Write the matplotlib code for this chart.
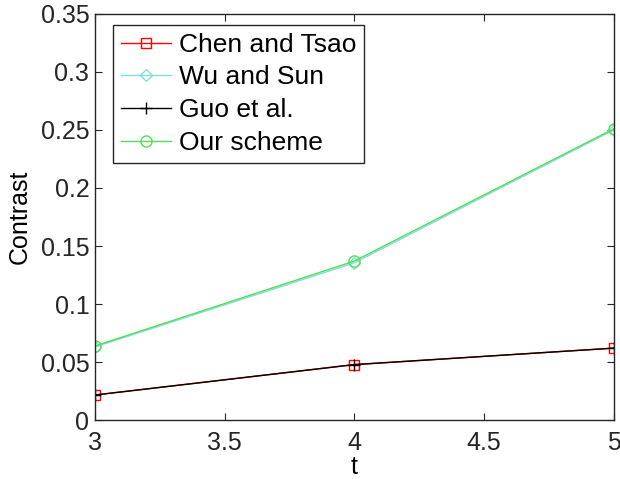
import matplotlib
matplotlib.use("Agg")
import matplotlib.pyplot as plt

t = [3, 4, 5]
chen_tsao = [0.0216, 0.0478, 0.0620]
wu_sun = [0.0630, 0.1355, 0.2500]
guo = [0.0216, 0.0478, 0.0620]
ours = [0.0638, 0.1370, 0.2510]

plt.rcParams['font.family'] = ['Liberation Sans', 'DejaVu Sans']

fig = plt.figure(figsize=(6.2, 4.79), dpi=100)
ax = fig.add_axes([0.153, 0.123, 0.837, 0.848])

ax.plot(t, chen_tsao, color='#ff0000', marker='s', markersize=7, mfc='none', lw=1, label='Chen and Tsao')
ax.plot(t, wu_sun, color='#7fdfdf', marker='D', markersize=6, mfc='none', lw=1, label='Wu and Sun')
ax.plot(t, guo, color='#000000', marker='+', markersize=8, lw=1, label='Guo et al.')
ax.plot(t, ours, color='#55dd55', marker='o', markersize=8, mfc='none', lw=1, label='Our scheme')

ax.set_xlim(3, 5)
ax.set_ylim(0, 0.35)
ax.set_xticks([3, 3.5, 4, 4.5, 5])
ax.set_xticklabels(['3', '3.5', '4', '4.5', '5'])
ax.set_yticks([0, 0.05, 0.1, 0.15, 0.2, 0.25, 0.3, 0.35])
ax.set_yticklabels(['0', '0.05', '0.1', '0.15', '0.2', '0.25', '0.3', '0.35'])
ax.tick_params(direction='in', labelsize=18, length=5, top=True, right=True,
               colors='#262626')
ax.tick_params(axis='x', pad=8)
ax.tick_params(axis='y', pad=4)
for s in ax.spines.values():
    s.set_linewidth(1.0)
    s.set_color('#262626')
ax.set_xlabel('t', fontsize=18, labelpad=0)
ax.set_ylabel('Contrast', fontsize=18, labelpad=6)

leg = ax.legend(loc='upper left', bbox_to_anchor=(0.035, 0.973), fontsize=19,
                frameon=True, fancybox=False, edgecolor='#262626', framealpha=1,
                handlelength=1.9, handletextpad=0.3, borderpad=0.3, labelspacing=0.33,
                borderaxespad=0)
leg.get_frame().set_linewidth(1.0)

fig.savefig('out.png', dpi=100)
